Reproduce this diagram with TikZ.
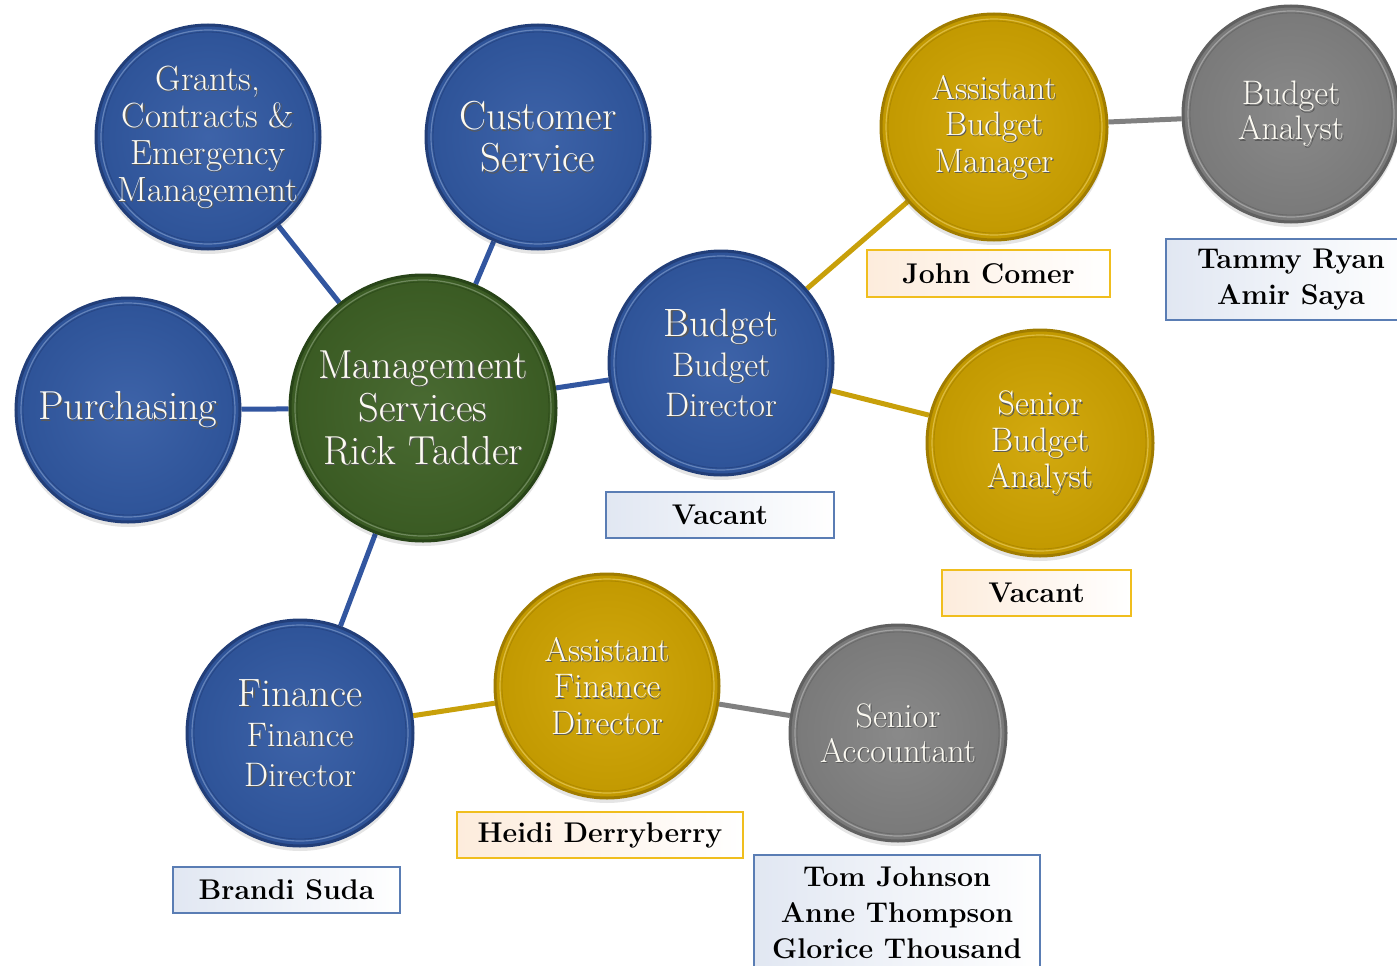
\documentclass[tikz,border=0pt]{standalone}
\usetikzlibrary{backgrounds}
\definecolor{cblue}{RGB}{49,89,163}
\definecolor{rblue}{RGB}{34,62,120}
\definecolor{cgreen}{RGB}{62,97,37}
\definecolor{rgreen}{RGB}{40,68,24}
\definecolor{cgold}{RGB}{208,164,0}
\definecolor{rgold}{RGB}{160,124,0}
\definecolor{cgray}{RGB}{130,130,130}
\definecolor{rgray}{RGB}{96,96,96}
\definecolor{lblue}{RGB}{50,86,160}
\definecolor{lgold}{RGB}{200,160,10}
\definecolor{lgray}{RGB}{128,128,128}
\definecolor{boxblue}{RGB}{90,125,180}
\definecolor{boxbluefill}{RGB}{225,231,242}
\definecolor{boxgold}{RGB}{240,190,30}
\definecolor{boxgoldfill}{RGB}{253,236,220}
\definecolor{txtwhite}{RGB}{252,250,242}
\tikzset{
  bubtxt/.style={text=txtwhite, align=center, inner sep=0pt},
  namebox/.style={line width=1.5pt, inner sep=0pt, align=center, text=black,
    font=\bfseries\fontsize{28.5}{36}\selectfont},
  bluebox/.style={namebox, draw=boxblue, left color=boxbluefill, right color=white},
  goldbox/.style={namebox, draw=boxgold, left color=boxgoldfill, right color=white},
  link/.style={line width=5pt},
  bluelink/.style={link, draw=lblue},
  goldlink/.style={link, draw=lgold},
  graylink/.style={link, draw=lgray},
}
% name, x, y, r, base, rim, font, text
\newcommand\bub[8]{%
  \fill[black, opacity=0.10] (#2,#3+4) circle[radius=#4*1pt+1pt];
  \node[circle, inner sep=0pt, minimum size=#4*2pt, draw=#6, line width=3pt,
        inner color=#5!94!white, outer color=#5!93!black] (#1) at (#2,#3) {};
  \draw[#5!75!white, line width=1.2pt] (#1.center) circle[radius=#4*1pt-5pt];
  \draw[#6!70!#5, line width=0.8pt] (#1.center) circle[radius=#4*1pt-7pt];
  \node[bubtxt, text=black!65, font=#7] at ([xshift=1.2pt,yshift=-1.2pt]#1.center) {#8};
  \node[bubtxt, font=#7] at (#1.center) {#8};
}
\begin{document}
\begin{tikzpicture}[x=1pt,y=-1pt]
\clip (0,0) rectangle (1397,966);

\bub{grants}{208}{137}{112}{cblue}{rblue}{\fontsize{35}{37}\selectfont}{Grants,\\Contracts \&\\Emergency\\Management}
\bub{cust}{538}{137}{112}{cblue}{rblue}{\fontsize{40.5}{42}\selectfont}{Customer\\Service}
\bub{purch}{128}{410}{112}{cblue}{rblue}{\fontsize{40.5}{42}\selectfont}{Purchasing}
\bub{mgmt}{423}{408}{133}{cgreen}{rgreen}{\fontsize{40.5}{43}\selectfont}{Management\\Services\\Rick Tadder}
\bub{budget}{721}{363}{112}{cblue}{rblue}{\fontsize{34}{40}\selectfont}{{\fontsize{39.5}{40}\selectfont Budget}\\Budget\\Director}
\bub{abm}{994}{127}{113}{cgold}{rgold}{\fontsize{34}{36.5}\selectfont}{Assistant\\Budget\\Manager}
\bub{ba}{1291}{114}{108}{cgray}{rgray}{\fontsize{34}{35}\selectfont}{Budget\\Analyst}
\bub{sba}{1040}{443}{113}{cgold}{rgold}{\fontsize{34}{36.5}\selectfont}{Senior\\Budget\\Analyst}
\bub{fin}{300}{733}{113}{cblue}{rblue}{\fontsize{34}{40}\selectfont}{{\fontsize{39.5}{40}\selectfont Finance}\\Finance\\Director}
\bub{afd}{607}{686}{112}{cgold}{rgold}{\fontsize{34}{36.5}\selectfont}{Assistant\\Finance\\Director}
\bub{sa}{898}{733}{108}{cgray}{rgray}{\fontsize{34}{35}\selectfont}{Senior\\Accountant}

\node[goldbox, minimum width=243pt, minimum height=47pt] (jc) at (988.5,273.5) {John Comer};
\node[bluebox, minimum width=250pt, minimum height=81pt] (tr) at (1291,279.5) {Tammy Ryan\\Amir Saya};
\node[bluebox, minimum width=228pt, minimum height=46pt] (vac1) at (720,515) {Vacant};
\node[goldbox, minimum width=189pt, minimum height=46pt] (vac2) at (1036.5,593) {Vacant};
\node[goldbox, minimum width=286pt, minimum height=46pt] (hd) at (600,835) {Heidi Derryberry};
\node[bluebox, minimum width=227pt, minimum height=46pt] (bs) at (286.5,890) {Brandi Suda};
\node[bluebox, minimum width=286pt, minimum height=116pt] (tj) at (897,913) {Tom Johnson\\Anne Thompson\\Glorice Thousand};

\begin{scope}[on background layer]
\draw[bluelink] (mgmt) -- (grants);
\draw[bluelink] (mgmt) -- (cust);
\draw[bluelink] (mgmt) -- (purch);
\draw[bluelink] (mgmt) -- (budget);
\draw[bluelink] (mgmt) -- (fin);
\draw[goldlink] (budget) -- (abm);
\draw[goldlink] (budget) -- (sba);
\draw[graylink] (abm) -- (ba);
\draw[goldlink] (fin) -- (afd);
\draw[graylink] (afd) -- (sa);
\end{scope}
\end{tikzpicture}
\end{document}
